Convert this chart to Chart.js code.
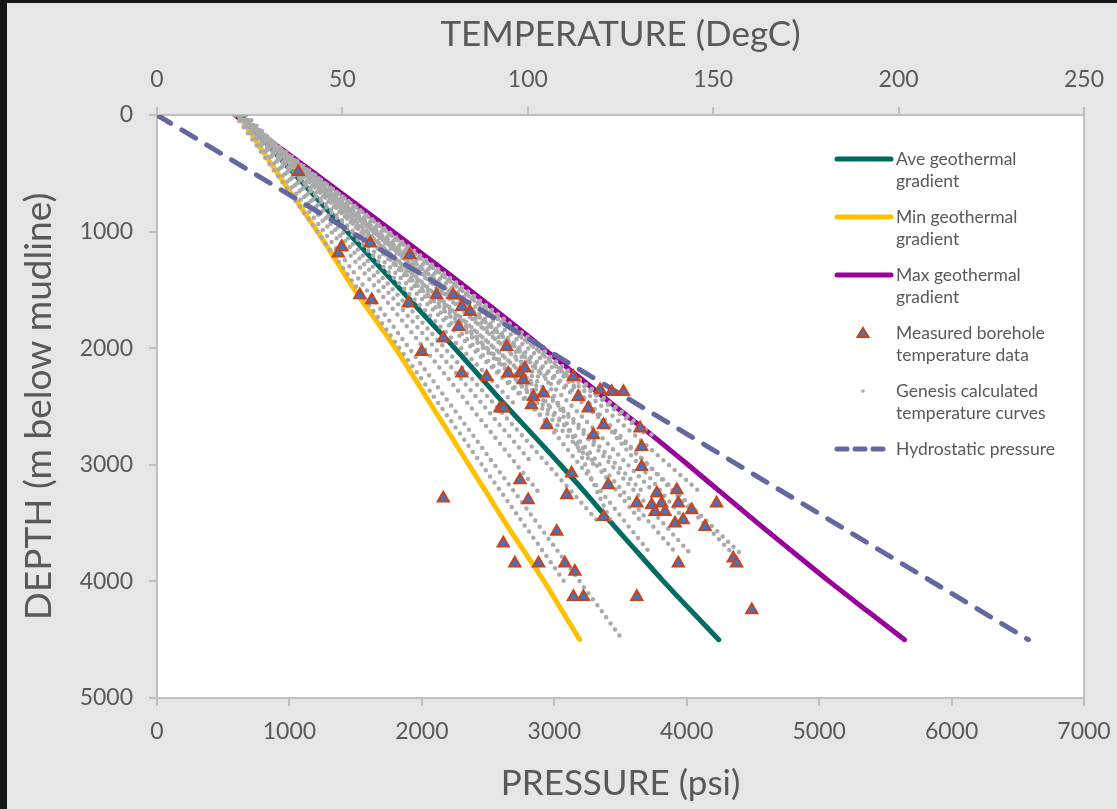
<!DOCTYPE html>
<html>
<head>
<meta charset="utf-8">
<script src="https://cdn.jsdelivr.net/npm/chart.js@4.4.1/dist/chart.umd.min.js"></script>
<style>
  html, body { margin: 0; padding: 0; background: #e6e6e6; }
  #wrap { position: relative; width: 1117px; height: 809px; overflow: hidden; background: #e6e6e6; }
  #edgeLeft { position: absolute; left: 0; top: 0; width: 7px; height: 809px; background: #161616; }
  #edgeTop { position: absolute; left: 0; top: 0; width: 1117px; height: 3px; background: #161616; }
  canvas { position: absolute; left: 0; top: 0; }
  .lg { position: absolute; font-family: Lato, sans-serif; font-size: 17.5px; line-height: 22px; color: #595959; }
  .lg svg { position: absolute; left: -62px; top: 0; }
</style>
</head>
<body>
<div id="wrap">
  <canvas id="geoChart" width="1117" height="809"></canvas>
  <div id="edgeLeft"></div>
  <div id="edgeTop"></div>

  <div class="lg" style="left:896px; top:148px;">
    <svg width="62" height="22"><line x1="3" y1="11" x2="57" y2="11" stroke="#006b63" stroke-width="5" stroke-linecap="round"/></svg>
    Ave geothermal<br>gradient
  </div>
  <div class="lg" style="left:896px; top:206px;">
    <svg width="62" height="22"><line x1="3" y1="11" x2="57" y2="11" stroke="#ffc000" stroke-width="5" stroke-linecap="round"/></svg>
    Min geothermal<br>gradient
  </div>
  <div class="lg" style="left:896px; top:264px;">
    <svg width="62" height="22"><line x1="3" y1="11" x2="57" y2="11" stroke="#990099" stroke-width="5" stroke-linecap="round"/></svg>
    Max geothermal<br>gradient
  </div>
  <div class="lg" style="left:896px; top:322px;">
    <svg width="62" height="22"><polygon points="29,6 34.5,15 23.5,15" fill="#4472c4" stroke="#c8441a" stroke-width="2"/></svg>
    Measured borehole<br>temperature data
  </div>
  <div class="lg" style="left:896px; top:380px;">
    <svg width="62" height="22"><circle cx="29" cy="11" r="1.8" fill="#ababab"/></svg>
    Genesis calculated<br>temperature curves
  </div>
  <div class="lg" style="left:896px; top:438px;">
    <svg width="62" height="22"><line x1="3" y1="11" x2="57" y2="11" stroke="#65679f" stroke-width="5" stroke-dasharray="10 8" stroke-linecap="round"/></svg>
    Hydrostatic pressure
  </div>
</div>

<script>
// depth grid (m below mudline) shared by the temperature curves
const depths = [0, 250, 500, 750, 1000, 1250, 1500, 1750, 2000, 2250, 2500, 2750, 3000, 3250, 3500, 3750, 4000, 4250, 4500];

// geothermal gradients, DegC at each depth
const minGradient = [22, 27.3, 32.5, 37.9, 43.3, 48.3, 53.3, 58.8, 64.3, 69.3, 74.2, 79.2, 84.1, 89.1, 94.0, 99.2, 104.4, 109.2, 114.0];
const aveGradient = [22.5, 29.7, 36.9, 44.1, 51.3, 58.5, 65.8, 73.0, 80.3, 87.3, 94.3, 101.6, 108.8, 115.8, 122.6, 129.6, 136.6, 144.0, 151.5];
const maxGradient = [21, 31.8, 42.5, 53.1, 63.6, 74.0, 84.3, 94.3, 104.1, 113.9, 123.6, 133.6, 143.2, 152.6, 162.0, 171.6, 181.3, 191.4, 201.6];

// Genesis model runs (null = curve stops)
const genesisCurves = [
  [22, 27.8, 33.5, 39.3, 45, 50.8, 56.5, 62.3, 68, 73.8, 79.5, 85.3, 91, 96.8, 102.5, 108.3, 114, 119.8, 125.5],
  [21, 26.6, 32.1, 37.7, 43.2, 48.8, 54.3, 59.9, 65.4, 71, 76.5, 82.1, 87.6, 93.2, 98.7, 104.3, 109.8, null, null],
  [22, 28.3, 34.5, 40.8, 47, 53.3, 59.5, 65.8, 72, 78.3, 84.5, 90.8, 97, 103.3, null, null, null, null, null],
  [22, 28.6, 35.3, 41.9, 48.5, 55.1, 61.8, 68.4, 75, 81.6, 88.3, 94.9, 101.5, null, null, null, null, null, null],
  [22, 29, 35.9, 42.9, 49.8, 56.8, 63.7, 70.7, 77.6, 84.6, 91.5, 98.5, 105.4, 112.4, 119.3, null, null, null, null],
  [21, 30.3, 39.7, 49, 58.3, 67.6, 77, 86.3, 95.6, 104.9, 108.4, 112, 115.5, 119, 122.6, null, null, null, null],
  [22, 30.3, 38.5, 46.8, 55, 63.3, 71.5, 79.8, 88, 96.3, 104.5, 112.8, 119.5, 126.3, 133, 139.8, null, null, null],
  [21, 29.8, 38.5, 47.3, 56, 64.8, 73.5, 82.3, 91, 99.8, 108.5, 115.5, 122.5, 129.5, 136.5, 143.5, null, null, null],
  [21, 30.5, 40, 49.5, 59, 68.5, 78, 87.5, 97, 106.5, 116, 124.2, 132.4, 140.6, 148.8, 157, null, null, null],
  [21, 30.9, 40.8, 50.6, 60.5, 70.4, 80.3, 90.1, 100, 109.9, 117.4, 124.9, 132.4, 139.9, 147.4, 154.9, null, null, null],
  [22, 32, 42, 52, 62, 72, 82, 92, 102, 111, 120, 129, 138, 147, null, null, null, null, null],
  [21, 31.4, 41.8, 52.1, 62.5, 72.9, 83.3, 93.6, 104, 110.5, 117, 123.5, 130, 136.5, 143, null, null, null, null],
  [23, 31.9, 40.8, 49.6, 58.5, 67.4, 76.3, 85.1, 94, 101.5, 109, 116.5, 124, 131.5, null, null, null, null, null],
  [23, 31.4, 39.8, 48.1, 56.5, 64.9, 73.3, 81.6, 88.9, 96.1, 103.4, 110.6, 117.9, null, null, null, null, null, null],
  [21, 31.1, 41.3, 51.4, 61.5, 71.6, 81.8, 91.9, 102, 112.1, 122.3, 132.4, null, null, null, null, null, null, null],
  [24, 31.8, 39.5, 47.3, 55, 62.8, 70.5, 78.3, 86, 93.8, 101.5, 107.8, 114, 120.3, 126.5, 132.8, null, null, null],
  [22, 29.5, 37, 44.5, 52, 59.5, 67, 74.5, 82, 89.5, 97, null, null, null, null, null, null, null, null],
  [21, 29, 37, 45, 53, 61, 69, 77, 85, 93, 101, 109, null, null, null, null, null, null, null],
  [21, 29.5, 38, 46.5, 55, 63.5, 72, 80.5, 89, 97.5, 106, null, null, null, null, null, null, null, null],
  [22, 31, 40, 49, 58, 67, 76, 85, 94, 103, null, null, null, null, null, null, null, null, null],
  [21, 30.6, 40.3, 49.9, 59.5, 69.1, 78.8, 88.4, 98, 107.6, 117.3, null, null, null, null, null, null, null, null],
  [21, 31.3, 41.5, 51.8, 62, 72.3, 82.5, 92.8, 103, 113.3, 123.5, 133.8, null, null, null, null, null, null, null],
  [22, 31.4, 40.8, 50.1, 59.5, 68.9, 78.3, 87.6, 97, 104.5, 112, 119.5, 127, 134.5, null, null, null, null, null],
  [22, 30.6, 39.3, 47.9, 56.5, 65.1, 73.8, 82.4, 91, 99.6, 105.9, 112.1, 118.4, 124.6, 130.9, null, null, null, null]
];

// measured borehole temperatures
const boreholeTemp = [38.1, 49.8, 48.9, 57.5, 54.7, 57.9, 67.8, 68.2, 75.4, 79.9, 82.2, 84.4, 81.3, 77.2, 71.4,
  82.2, 88.9, 94.7, 97.9, 99.2, 94.3, 112.3, 98.8, 101.5, 104.2, 101.0, 92.5, 93.4, 105.1, 113.6,
  119.5, 122.6, 125.8, 116.3, 120.4, 117.7, 130.3, 130.7, 130.7, 111.8, 121.7, 110.5, 97.9, 100.1, 77.2,
  120.4, 129.4, 134.8, 133.4, 136.1, 134.3, 137.0, 140.2, 140.6, 144.2, 139.7, 141.9, 147.8, 150.9, 107.8,
  93.4, 96.5, 102.9, 110.0, 112.7, 112.3, 115.0, 140.6, 155.4, 156.3, 129.4, 160.4];
const boreholeDepth = [486, 1129, 1186, 1100, 1544, 1587, 1615, 1200, 1544, 1544, 1644, 1687, 1815, 1915, 2030,
  2215, 2244, 2215, 2215, 2173, 1987, 2244, 2272, 2416, 2387, 2487, 2515, 2515, 2659, 2416,
  2358, 2373, 2373, 2515, 2659, 2744, 2687, 2845, 3016, 3073, 3173, 3259, 3130, 3302, 3287,
  3445, 3330, 3244, 3345, 3330, 3402, 3402, 3216, 3330, 3388, 3502, 3473, 3531, 3330, 3573,
  3673, 3845, 3845, 3845, 3916, 4131, 4131, 3845, 3802, 3845, 4131, 4245];

// hydrostatic pressure line (psi vs m)
const hydroDepth = [0, 4500];
const hydroPressure = [0, 6580];

const tickFont = { family: 'Lato', size: 23 };
const titleFont = { family: 'Lato', size: 35 };
const axisGrey = '#bfbfbf';
const textGrey = '#595959';

function toPoints(temps) {
  return temps
    .map((t, i) => (t === null ? null : { x: t, y: depths[i] }))
    .filter(p => p !== null);
}

// plain numbers on the axes, no thousands separator
const plainTick = value => String(value);

const datasets = [];

datasets.push({
  label: 'Measured borehole temperature data',
  data: boreholeTemp.map((t, i) => ({ x: t, y: boreholeDepth[i] })),
  xAxisID: 'xT',
  pointStyle: 'triangle',
  pointRadius: 6.5,
  backgroundColor: '#4472c4',
  borderColor: '#c8441a',
  borderWidth: 2,
  order: 0
});

datasets.push({
  label: 'Hydrostatic pressure',
  data: hydroPressure.map((p, i) => ({ x: p, y: hydroDepth[i] })),
  xAxisID: 'xP',
  showLine: true,
  borderColor: '#65679f',
  borderWidth: 5,
  borderDash: [16, 13],
  borderCapStyle: 'round',
  pointRadius: 0,
  order: 1
});

// each model run is a round-capped dotted line: dots every few pixels
genesisCurves.forEach(curve => {
  datasets.push({
    label: 'Genesis calculated temperature curves',
    data: toPoints(curve),
    xAxisID: 'xT',
    showLine: true,
    borderColor: '#aaaaaa',
    borderWidth: 4.5,
    borderDash: [0, 7.5],
    borderCapStyle: 'round',
    pointRadius: 0,
    order: 2
  });
});

[[aveGradient, '#006b63', 'Ave geothermal gradient'],
 [minGradient, '#ffc000', 'Min geothermal gradient'],
 [maxGradient, '#990099', 'Max geothermal gradient']].forEach(([temps, colour, name]) => {
  datasets.push({
    label: name,
    data: toPoints(temps),
    xAxisID: 'xT',
    showLine: true,
    borderColor: colour,
    borderWidth: 5,
    borderCapStyle: 'round',
    borderJoinStyle: 'round',
    cubicInterpolationMode: 'monotone',
    pointRadius: 0,
    order: 3
  });
});

// white plot area with a grey frame on the right
const plotBackground = {
  id: 'plotBackground',
  beforeDraw(chart) {
    const { ctx, chartArea: a } = chart;
    ctx.save();
    ctx.fillStyle = '#ffffff';
    ctx.fillRect(a.left, a.top, a.right - a.left, a.bottom - a.top);
    ctx.restore();
  },
  afterDraw(chart) {
    const { ctx, chartArea: a } = chart;
    ctx.save();
    ctx.strokeStyle = axisGrey;
    ctx.lineWidth = 2;
    ctx.beginPath();
    ctx.moveTo(a.right, a.top - 8);
    ctx.lineTo(a.right, a.bottom + 8);
    ctx.stroke();
    ctx.restore();
  }
};

const ctx = document.getElementById('geoChart').getContext('2d');
const geoChart = new Chart(ctx, {
  type: 'scatter',
  data: { datasets: datasets },
  plugins: [plotBackground],
  options: {
    responsive: false,
    animation: false,
    layout: { padding: { left: 0, right: 33, top: 0, bottom: 0 } },
    plugins: {
      legend: { display: false },
      tooltip: { enabled: false }
    },
    scales: {
      xP: {
        type: 'linear',
        position: 'bottom',
        min: 0,
        max: 7000,
        ticks: { stepSize: 1000, color: textGrey, font: tickFont, padding: 12, callback: plainTick },
        grid: { drawOnChartArea: false, color: axisGrey, lineWidth: 2, tickLength: 8 },
        border: { color: axisGrey, width: 2 },
        title: { display: true, text: 'PRESSURE (psi)', color: textGrey, font: titleFont, padding: { top: 0, bottom: 4 } },
        afterFit(scale) { scale.height = 111; scale.paddingLeft = 0; scale.paddingRight = 0; }
      },
      xT: {
        type: 'linear',
        position: 'top',
        min: 0,
        max: 250,
        ticks: { stepSize: 50, color: textGrey, font: tickFont, padding: 14, callback: plainTick },
        grid: { drawOnChartArea: false, color: axisGrey, lineWidth: 2, tickLength: 8 },
        border: { color: axisGrey, width: 2 },
        title: { display: true, text: 'TEMPERATURE (DegC)', color: textGrey, font: titleFont, padding: { top: 14, bottom: 0 } },
        afterFit(scale) { scale.height = 115; scale.paddingLeft = 0; scale.paddingRight = 0; }
      },
      y: {
        type: 'linear',
        position: 'left',
        reverse: true,
        min: 0,
        max: 5000,
        ticks: { stepSize: 1000, color: textGrey, font: tickFont, padding: 16, callback: plainTick },
        grid: { drawOnChartArea: false, color: axisGrey, lineWidth: 2, tickLength: 8 },
        border: { color: axisGrey, width: 2 },
        title: { display: true, text: 'DEPTH (m below mudline)', color: textGrey, font: { family: 'Lato', size: 37 }, padding: { top: 17, bottom: 0 } },
        afterFit(scale) { scale.width = 157; scale.paddingTop = 0; scale.paddingBottom = 0; }
      }
    }
  }
});
</script>
</body>
</html>
